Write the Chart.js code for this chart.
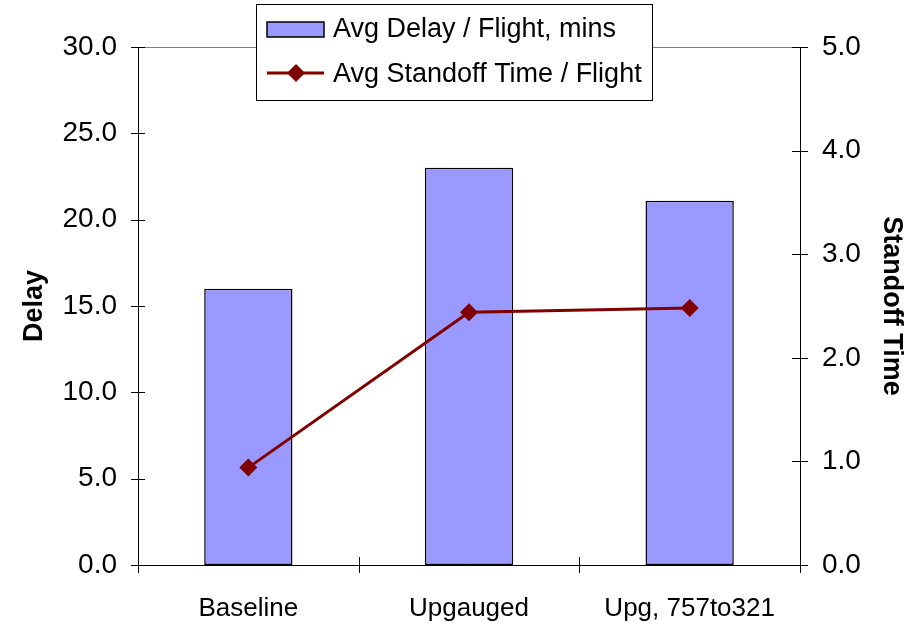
<!DOCTYPE html>
<html>
<head>
<meta charset="utf-8">
<script src="https://cdn.jsdelivr.net/npm/chart.js@4"></script>
<style>
  body { margin: 0; background: #fff; }
  #wrap { width: 911px; height: 628px; position: relative; }
</style>
</head>
<body>
<div id="wrap"><canvas id="delayChart"></canvas></div>
<script>
// categories and series
const categories = ['Baseline', 'Upgauged', 'Upg, 757to321'];
const avgDelay = [16.0, 23.0, 21.1];
const avgStandoff = [0.94, 2.44, 2.48];
const delayTicks = { min: 0, max: 30, step: 5 };
const standoffTicks = { min: 0, max: 5, step: 1 };

const FONT = "'Liberation Sans', Arial, sans-serif";

// axis frame, crossing tick marks and the boxed legend
const framePlugin = {
  id: 'frame',
  afterDraw(chart) {
    const ctx = chart.ctx;
    const a = chart.chartArea;
    const y = chart.scales.y, y1 = chart.scales.y1;
    ctx.save();
    ctx.lineWidth = 1;
    // top border (gray)
    ctx.strokeStyle = '#808080';
    ctx.beginPath();
    ctx.moveTo(a.left, a.top + 0.5);
    ctx.lineTo(a.right, a.top + 0.5);
    ctx.stroke();
    // axes
    ctx.strokeStyle = '#000';
    ctx.beginPath();
    ctx.moveTo(a.left + 0.5, a.top);
    ctx.lineTo(a.left + 0.5, a.bottom);
    ctx.moveTo(a.right + 0.5, a.top);
    ctx.lineTo(a.right + 0.5, a.bottom);
    ctx.moveTo(a.left - 7, a.bottom + 0.5);
    ctx.lineTo(a.right + 8, a.bottom + 0.5);
    // tick marks
    y.ticks.forEach(t => {
      const p = Math.round(y.getPixelForValue(t.value)) + 0.5;
      ctx.moveTo(a.left - 7, p);
      ctx.lineTo(a.left + 7, p);
    });
    y1.ticks.forEach(t => {
      const p = Math.round(y1.getPixelForValue(t.value)) + 0.5;
      ctx.moveTo(a.right - 8, p);
      ctx.lineTo(a.right + 8, p);
    });
    for (let i = 0; i <= categories.length; i++) {
      const px = Math.round(a.left + i * (a.right - a.left) / categories.length) + 0.5;
      ctx.moveTo(px, a.bottom - 8);
      ctx.lineTo(px, a.bottom + 8);
    }
    ctx.stroke();

    // legend box
    const bx = 256, by = 4, bw = 396, bh = 96;
    ctx.fillStyle = '#fff';
    ctx.fillRect(bx, by, bw, bh);
    ctx.strokeStyle = '#000';
    ctx.strokeRect(bx + 0.5, by + 0.5, bw, bh);
    const ds = chart.data.datasets;
    // bar swatch
    ctx.fillStyle = ds[1].backgroundColor;
    ctx.fillRect(267, 22, 57, 15);
    ctx.lineWidth = 1.5;
    ctx.strokeRect(267, 22, 57, 15);
    // line swatch
    ctx.strokeStyle = ds[0].borderColor;
    ctx.lineWidth = 3;
    ctx.beginPath();
    ctx.moveTo(267, 73);
    ctx.lineTo(324, 73);
    ctx.stroke();
    ctx.fillStyle = ds[0].borderColor;
    ctx.beginPath();
    ctx.moveTo(296, 64);
    ctx.lineTo(305, 73);
    ctx.lineTo(296, 82);
    ctx.lineTo(287, 73);
    ctx.closePath();
    ctx.fill();
    ctx.fillStyle = '#000';
    ctx.font = '27px ' + FONT;
    ctx.textBaseline = 'middle';
    ctx.fillText(ds[1].label, 333, 30);
    ctx.fillText(ds[0].label, 333, 75);
    ctx.restore();
  }
};

new Chart(document.getElementById('delayChart'), {
  data: {
    labels: categories,
    datasets: [
      {
        type: 'line',
        label: 'Avg Standoff Time / Flight',
        data: avgStandoff,
        yAxisID: 'y1',
        borderColor: '#800000',
        backgroundColor: '#800000',
        borderWidth: 3,
        pointStyle: 'rectRot',
        pointRadius: 9,
        pointBorderWidth: 0,
        tension: 0,
        fill: false,
        order: 0
      },
      {
        type: 'bar',
        label: 'Avg Delay / Flight, mins',
        data: avgDelay,
        yAxisID: 'y',
        backgroundColor: '#9999FF',
        borderColor: '#000',
        borderWidth: 1.5,
        borderSkipped: false,
        barPercentage: 0.4,
        categoryPercentage: 1.0,
        order: 1
      }
    ]
  },
  options: {
    responsive: true,
    maintainAspectRatio: false,
    animation: false,
    layout: { padding: { top: 47, left: 0, right: 0, bottom: 0 } },
    plugins: {
      legend: { display: false },
      tooltip: { enabled: false }
    },
    scales: {
      x: {
        offset: true,
        grid: { display: false, drawTicks: false },
        border: { display: false },
        ticks: { color: '#000', font: { family: FONT, size: 26 }, padding: 28, maxRotation: 0 },
        afterFit: s => { s.height = 63; }
      },
      y: {
        position: 'left',
        min: delayTicks.min,
        max: delayTicks.max,
        grid: { display: false, drawTicks: false },
        border: { display: false },
        ticks: {
          stepSize: delayTicks.step,
          color: '#000',
          font: { family: FONT, size: 28 },
          padding: 21,
          callback: v => v.toFixed(1)
        },
        title: { display: true, text: 'Delay', color: '#000', font: { family: FONT, size: 27, weight: 'bold' }, padding: { top: 18, bottom: 0 } },
        afterFit: s => { s.width = 138; }
      },
      y1: {
        position: 'right',
        min: standoffTicks.min,
        max: standoffTicks.max,
        grid: { display: false, drawTicks: false },
        border: { display: false },
        ticks: {
          stepSize: standoffTicks.step,
          color: '#000',
          font: { family: FONT, size: 28 },
          padding: 22,
          callback: v => v.toFixed(1)
        },
        title: { display: true, text: 'Standoff Time', color: '#000', font: { family: FONT, size: 27, weight: 'bold' }, padding: { top: 3, bottom: 0 } },
        afterFit: s => { s.width = 111; }
      }
    }
  },
  plugins: [framePlugin]
});
</script>
</body>
</html>
